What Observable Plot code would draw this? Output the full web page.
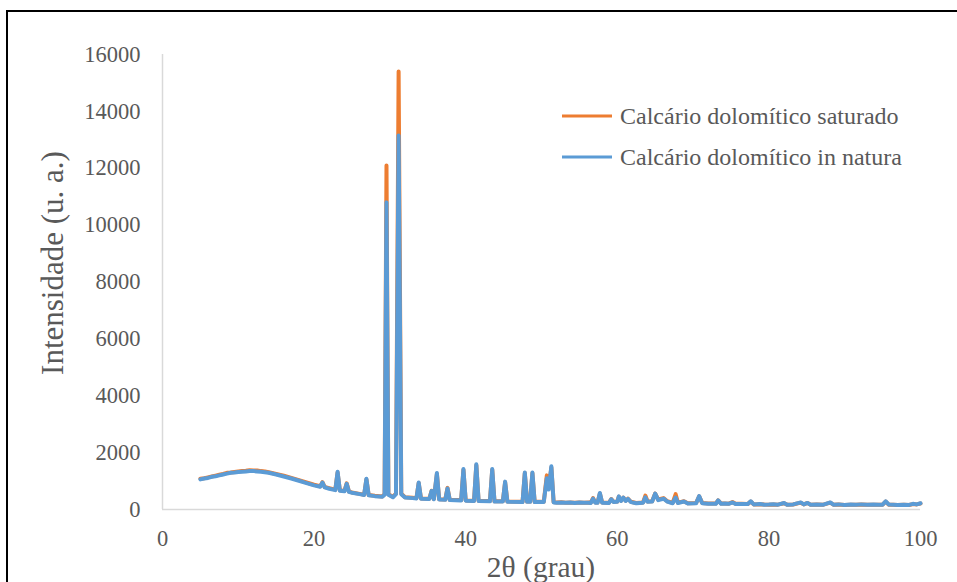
<!DOCTYPE html>
<html>
<head>
<meta charset="utf-8">
<script src="https://cdn.jsdelivr.net/npm/d3@7"></script>
<script src="https://cdn.jsdelivr.net/npm/@observablehq/plot@0.6"></script>
<style>
  html, body { margin: 0; padding: 0; background: #fff; overflow: hidden; }
  #wrap { position: relative; width: 957px; height: 582px; overflow: hidden; font-family: "Liberation Serif", "Times New Roman", serif; color: #595959; }
  #frame { position: absolute; left: 6px; top: 10px; width: 1000px; height: 1000px; border: 2px solid #000; box-sizing: border-box; pointer-events: none; }
  #chart { position: absolute; left: 0; top: 0; }
  .title { position: absolute; white-space: nowrap; line-height: 1; }
  #xtitle { left: 541px; top: 568px; font-size: 29.5px; transform: translate(-50%, -50%); }
  #ytitle { left: 52px; top: 263px; font-size: 31px; transform: translate(-50%, -50%) rotate(-90deg); }
  .leg { position: absolute; left: 562px; display: flex; align-items: center; font-size: 24px; white-space: nowrap; transform: translateY(-50%); }
  .leg .sw { width: 50px; height: 3.5px; margin-right: 8px; }
</style>
</head>
<body>
<div id="wrap">
  <div id="chart"></div>
  <div id="frame"></div>
  <div class="title" id="xtitle">2θ (grau)</div>
  <div class="title" id="ytitle">Intensidade (u. a.)</div>
  <div class="leg" style="top:116px"><div class="sw" style="background:#ED7D31"></div><span>Calcário dolomítico saturado</span></div>
  <div class="leg" style="top:157px"><div class="sw" style="background:#5B9BD5"></div><span>Calcário dolomítico in natura</span></div>
</div>
<script>
// 2θ positions (degrees)
const twoTheta = [
  5.0, 5.5, 6.0, 6.5, 7.0, 7.5, 8.0, 8.5, 9.0, 9.5,
  10.0, 10.5, 11.0, 11.5, 12.0, 12.5, 13.0, 13.5, 14.0, 15.0,
  16.0, 17.0, 18.0, 19.0, 20.0, 20.8, 21.1, 21.4, 22.0, 22.8,
  23.1, 23.4, 24.0, 24.3, 24.6, 25.0, 26.0, 26.6, 26.9, 27.2,
  28.0, 29.0, 29.3, 29.55, 29.8, 30.4, 30.8, 31.15, 31.5, 32.0,
  33.0, 33.5, 33.8, 34.1, 35.2, 35.5, 35.8, 36.2, 36.5, 37.3,
  37.6, 37.9, 39.4, 39.7, 40.0, 41.1, 41.4, 41.7, 43.2, 43.5,
  43.8, 44.9, 45.2, 45.5, 47.5, 47.8, 48.1, 48.5, 48.8, 49.1,
  50.3, 50.7, 50.95, 51.3, 51.6, 52.0, 52.6, 53.2, 53.8, 54.4,
  55.0, 55.6, 56.2, 56.5, 56.8, 57.1, 57.4, 57.7, 58.0, 58.9,
  59.2, 59.5, 60.0, 60.2, 60.5, 60.8, 61.1, 61.4, 61.8, 62.5,
  63.4, 63.7, 64.0, 64.6, 65.0, 65.4, 66.1, 66.6, 67.3, 67.7,
  68.0, 68.8, 69.3, 70.4, 70.8, 71.2, 72.0, 73.0, 73.3, 73.7,
  74.2, 74.7, 75.2, 75.6, 76.4, 77.2, 77.6, 78.0, 78.8, 79.4,
  80.0, 80.6, 81.2, 82.0, 82.4, 83.2, 84.2, 84.6, 85.1, 85.5,
  86.3, 87.2, 88.1, 88.5, 89.2, 90.0, 90.8, 91.5, 92.2, 93.0,
  93.8, 94.5, 95.0, 95.4, 95.8, 96.4, 97.0, 97.8, 98.5, 99.0,
  99.5, 100.0
];
// Calcário dolomítico in natura (blue)
const natura = [
  1060, 1090, 1110, 1150, 1170, 1200, 1230, 1260, 1290, 1300,
  1320, 1330, 1340, 1350, 1350, 1340, 1330, 1310, 1290, 1230,
  1160, 1090, 1010, 930, 850, 800, 950, 780, 730, 680,
  1330, 660, 640, 900, 620, 590, 540, 510, 1080, 500,
  470, 450, 520, 10800, 520, 430, 540, 13150, 540, 420,
  400, 390, 950, 380, 370, 650, 360, 1280, 350, 340,
  740, 330, 320, 1420, 310, 300, 1590, 300, 290, 1420,
  280, 280, 980, 270, 260, 1300, 270, 270, 1300, 260,
  260, 1100, 700, 1520, 250, 240, 250, 235, 245, 230,
  245, 235, 240, 230, 380, 240, 240, 580, 240, 230,
  360, 260, 270, 460, 300, 420, 300, 370, 260, 220,
  240, 430, 270, 280, 560, 330, 380, 280, 220, 420,
  230, 280, 210, 220, 470, 220, 200, 200, 320, 200,
  210, 200, 250, 190, 195, 190, 290, 180, 190, 170,
  175, 185, 170, 230, 170, 180, 250, 180, 230, 170,
  180, 170, 250, 170, 180, 160, 175, 165, 180, 165,
  175, 165, 170, 290, 180, 170, 160, 170, 160, 200,
  180, 220
];
// Calcário dolomítico saturado (orange)
const saturado = [
  1080, 1100, 1130, 1160, 1190, 1220, 1250, 1290, 1300, 1320,
  1340, 1350, 1360, 1380, 1370, 1370, 1350, 1340, 1310, 1250,
  1190, 1110, 1030, 950, 870, 820, 960, 790, 750, 700,
  1300, 680, 650, 920, 630, 600, 550, 520, 1060, 510,
  480, 460, 540, 12100, 540, 450, 560, 15400, 560, 430,
  410, 400, 930, 390, 380, 660, 370, 1250, 360, 350,
  760, 340, 330, 1400, 320, 310, 1560, 310, 300, 1400,
  290, 290, 960, 280, 270, 1280, 280, 280, 1280, 270,
  270, 1200, 750, 1480, 260, 250, 255, 240, 250, 240,
  250, 240, 245, 240, 400, 250, 250, 560, 250, 240,
  370, 270, 280, 450, 310, 420, 310, 380, 270, 230,
  250, 490, 280, 290, 560, 350, 400, 290, 230, 540,
  240, 290, 220, 230, 460, 230, 210, 210, 320, 210,
  215, 205, 260, 200, 200, 190, 280, 180, 185, 175,
  170, 180, 170, 220, 170, 175, 240, 180, 230, 170,
  175, 170, 240, 170, 175, 160, 170, 165, 175, 165,
  170, 165, 170, 280, 170, 165, 160, 165, 160, 190,
  180, 210
];
const xTicks = [0, 20, 40, 60, 80, 100];
const yTicks = [0, 2000, 4000, 6000, 8000, 10000, 12000, 14000, 16000];

const sat = twoTheta.map((x, i) => ({x, y: saturado[i]}));
const nat = twoTheta.map((x, i) => ({x, y: natura[i]}));

const chart = Plot.plot({
  width: 957,
  height: 582,
  marginLeft: 162,
  marginRight: 37,
  marginTop: 54,
  marginBottom: 73,
  x: {domain: [0, 100]},
  y: {domain: [0, 16000]},
  style: {fontFamily: "'Liberation Serif', 'Times New Roman', serif", fontSize: "22.5px", color: "#595959", background: "transparent"},
  marks: [
    Plot.ruleX([0], {stroke: "#d9d9d9", strokeWidth: 1.5}),
    Plot.ruleY([0], {stroke: "#d9d9d9", strokeWidth: 1.5}),
    Plot.axisX({ticks: xTicks, tickSize: 0, tickPadding: 21, label: null, tickFormat: d3.format("d")}),
    Plot.axisY({ticks: yTicks, tickSize: 0, tickPadding: 22, label: null, tickFormat: d3.format("d")}),
    Plot.line(sat, {x: "x", y: "y", stroke: "#ED7D31", strokeWidth: 4, strokeLinecap: "round", strokeLinejoin: "round"}),
    Plot.line(nat, {x: "x", y: "y", stroke: "#5B9BD5", strokeWidth: 4, strokeLinecap: "round", strokeLinejoin: "round"})
  ]
});
document.getElementById("chart").appendChild(chart);
</script>
</body>
</html>
